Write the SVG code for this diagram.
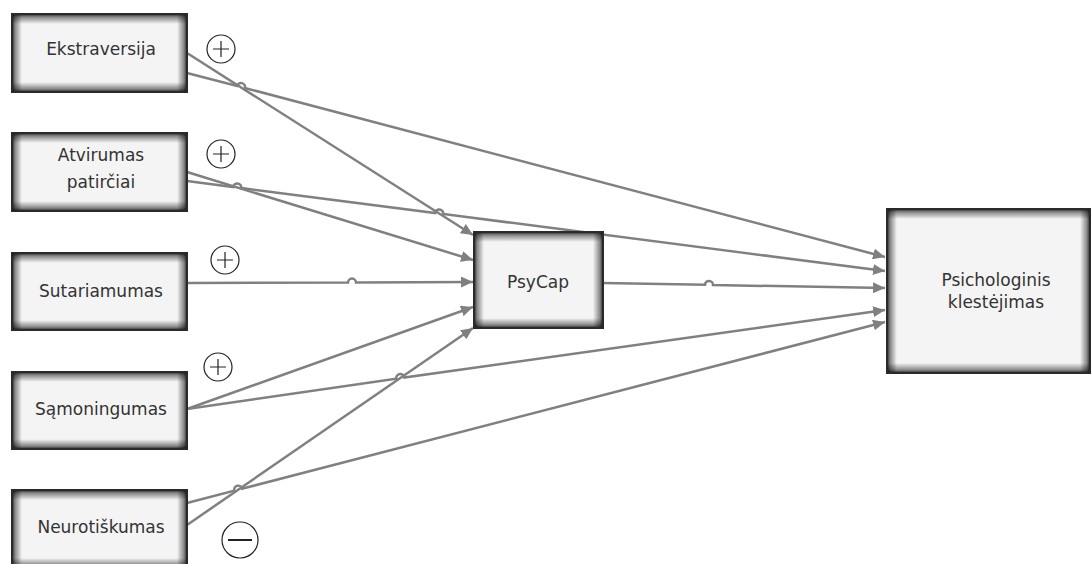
<svg xmlns="http://www.w3.org/2000/svg" width="1092" height="564" viewBox="0 0 1092 564">
<style>
.box{fill:#f4f4f4}
.edge{fill:none;stroke:#2a2a2a;stroke-width:2}
.lbl{font-family:"DejaVu Sans","Liberation Sans",sans-serif;font-size:17px;fill:#333;text-anchor:middle}
.con{fill:none;stroke:#808080;stroke-width:2.5;marker-end:url(#arr)}
.sign{fill:#fff;stroke:#222;stroke-width:1.2}
.sym{stroke:#222;stroke-width:1.2;fill:none}
</style>
<defs>
<linearGradient id="gx175" x1="0" y1="0" x2="1" y2="0">
<stop offset="0" stop-color="#000" stop-opacity="0.85"/><stop offset="0.017" stop-color="#000" stop-opacity="0.45"/><stop offset="0.057" stop-color="#000" stop-opacity="0"/>
<stop offset="0.943" stop-color="#000" stop-opacity="0"/><stop offset="0.983" stop-color="#000" stop-opacity="0.45"/><stop offset="1" stop-color="#000" stop-opacity="0.85"/>
</linearGradient>
<linearGradient id="gx129" x1="0" y1="0" x2="1" y2="0">
<stop offset="0" stop-color="#000" stop-opacity="0.85"/><stop offset="0.023" stop-color="#000" stop-opacity="0.45"/><stop offset="0.078" stop-color="#000" stop-opacity="0"/>
<stop offset="0.922" stop-color="#000" stop-opacity="0"/><stop offset="0.977" stop-color="#000" stop-opacity="0.45"/><stop offset="1" stop-color="#000" stop-opacity="0.85"/>
</linearGradient>
<linearGradient id="gx203" x1="0" y1="0" x2="1" y2="0">
<stop offset="0" stop-color="#000" stop-opacity="0.85"/><stop offset="0.015" stop-color="#000" stop-opacity="0.45"/><stop offset="0.049" stop-color="#000" stop-opacity="0"/>
<stop offset="0.951" stop-color="#000" stop-opacity="0"/><stop offset="0.985" stop-color="#000" stop-opacity="0.45"/><stop offset="1" stop-color="#000" stop-opacity="0.85"/>
</linearGradient>
<linearGradient id="gy78" x1="0" y1="0" x2="0" y2="1">
<stop offset="0" stop-color="#000" stop-opacity="0.85"/><stop offset="0.038" stop-color="#000" stop-opacity="0.45"/><stop offset="0.128" stop-color="#000" stop-opacity="0"/>
<stop offset="0.872" stop-color="#000" stop-opacity="0"/><stop offset="0.962" stop-color="#000" stop-opacity="0.45"/><stop offset="1" stop-color="#000" stop-opacity="0.85"/>
</linearGradient>
<linearGradient id="gy96" x1="0" y1="0" x2="0" y2="1">
<stop offset="0" stop-color="#000" stop-opacity="0.85"/><stop offset="0.031" stop-color="#000" stop-opacity="0.45"/><stop offset="0.104" stop-color="#000" stop-opacity="0"/>
<stop offset="0.896" stop-color="#000" stop-opacity="0"/><stop offset="0.969" stop-color="#000" stop-opacity="0.45"/><stop offset="1" stop-color="#000" stop-opacity="0.85"/>
</linearGradient>
<linearGradient id="gy164" x1="0" y1="0" x2="0" y2="1">
<stop offset="0" stop-color="#000" stop-opacity="0.85"/><stop offset="0.018" stop-color="#000" stop-opacity="0.45"/><stop offset="0.061" stop-color="#000" stop-opacity="0"/>
<stop offset="0.939" stop-color="#000" stop-opacity="0"/><stop offset="0.982" stop-color="#000" stop-opacity="0.45"/><stop offset="1" stop-color="#000" stop-opacity="0.85"/>
</linearGradient>
<marker id="arr" markerUnits="userSpaceOnUse" markerWidth="13" markerHeight="11" refX="12" refY="5.5" orient="auto">
<path d="M0,0 L12,5.5 L0,11 z" fill="#808080"/>
</marker>
</defs>
<g id="connectors">
<path class="con" d="M187,53 L473,235"/>
<path class="con" d="M187,73 L237.1,86 A4,4 0 0 1 244.9,88 L885,257"/>
<path class="con" d="M187,172 L473,260"/>
<path class="con" d="M187,181 L233.3,187 A4,4 0 0 1 241.3,188 L435.2,213 A4,4 0 0 1 443.2,214 L885,271"/>
<path class="con" d="M187,283 L348,282.6 A4,4 0 0 1 356,282.6 L473,282"/>
<path class="con" d="M603,283 L705,284.8 A4,4 0 0 1 713,285 L885,288"/>
<path class="con" d="M187,409 L473,307"/>
<path class="con" d="M187,409 L396.3,378.7 A4,4 0 0 1 404.3,377.5 L885,310"/>
<path class="con" d="M187,503 L234.3,490.7 A4,4 0 0 1 242.1,488.7 L885,322"/>
<path class="con" d="M187,525 L473,328"/>
</g>
<g id="signs">
<circle class="sign" cx="221" cy="49" r="14"/><path class="sym" d="M213,49 H229 M221,41 V57"/>
<circle class="sign" cx="221" cy="154" r="14"/><path class="sym" d="M213,154 H229 M221,146 V162"/>
<circle class="sign" cx="225" cy="260" r="14"/><path class="sym" d="M217,260 H233 M225,252 V268"/>
<circle class="sign" cx="218" cy="367" r="14"/><path class="sym" d="M210,367 H226 M218,359 V375"/>
<circle class="sign" cx="240" cy="540" r="18"/><path class="sym" d="M228,540 H252" style="stroke-width:2"/>
</g>
<g id="n-ekstraversija"><rect class="box" x="12" y="14" width="175" height="78"/><rect x="12" y="14" width="175" height="78" fill="url(#gx175)"/><rect x="12" y="14" width="175" height="78" fill="url(#gy78)"/><rect class="edge" x="12" y="14" width="175" height="78"/><text class="lbl" x="101" y="55">Ekstraversija</text></g>
<g id="n-atvirumas"><rect class="box" x="12" y="133" width="175" height="78"/><rect x="12" y="133" width="175" height="78" fill="url(#gx175)"/><rect x="12" y="133" width="175" height="78" fill="url(#gy78)"/><rect class="edge" x="12" y="133" width="175" height="78"/><text class="lbl" x="101" y="161">Atvirumas</text><text class="lbl" x="101" y="188">patirčiai</text></g>
<g id="n-sutariamumas"><rect class="box" x="12" y="253" width="175" height="77"/><rect x="12" y="253" width="175" height="77" fill="url(#gx175)"/><rect x="12" y="253" width="175" height="77" fill="url(#gy78)"/><rect class="edge" x="12" y="253" width="175" height="77"/><text class="lbl" x="101" y="297">Sutariamumas</text></g>
<g id="n-samoningumas"><rect class="box" x="12" y="372" width="175" height="77"/><rect x="12" y="372" width="175" height="77" fill="url(#gx175)"/><rect x="12" y="372" width="175" height="77" fill="url(#gy78)"/><rect class="edge" x="12" y="372" width="175" height="77"/><text class="lbl" x="101" y="415">Sąmoningumas</text></g>
<g id="n-neurotiskumas"><rect class="box" x="12" y="490" width="175" height="78"/><rect x="12" y="490" width="175" height="78" fill="url(#gx175)"/><rect x="12" y="490" width="175" height="78" fill="url(#gy78)"/><rect class="edge" x="12" y="490" width="175" height="78"/><text class="lbl" x="101" y="533">Neurotiškumas</text></g>
<g id="n-psycap"><rect class="box" x="474" y="232" width="129" height="96"/><rect x="474" y="232" width="129" height="96" fill="url(#gx129)"/><rect x="474" y="232" width="129" height="96" fill="url(#gy96)"/><rect class="edge" x="474" y="232" width="129" height="96"/><text class="lbl" x="538" y="288">PsyCap</text></g>
<g id="n-klestejimas"><rect class="box" x="887" y="209" width="203" height="164"/><rect x="887" y="209" width="203" height="164" fill="url(#gx203)"/><rect x="887" y="209" width="203" height="164" fill="url(#gy164)"/><rect class="edge" x="887" y="209" width="203" height="164"/><text class="lbl" x="996" y="286">Psichologinis</text><text class="lbl" x="996" y="308">klestėjimas</text></g>
</svg>
